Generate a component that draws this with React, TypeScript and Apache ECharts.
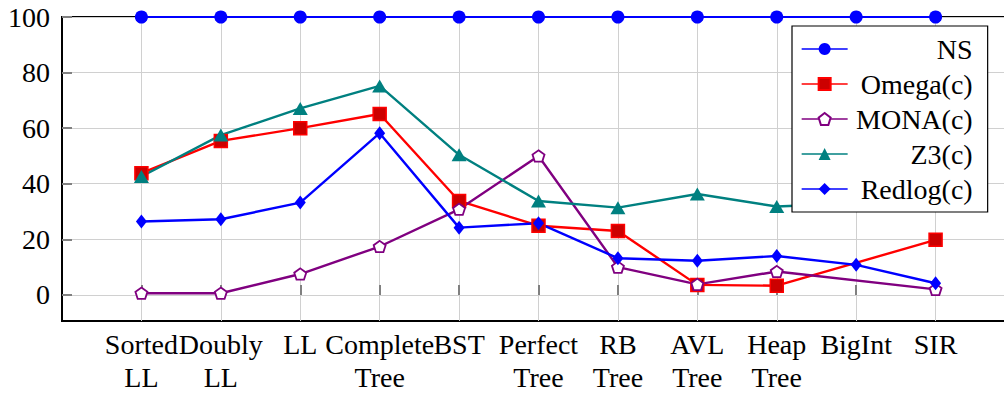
import React, { useEffect, useRef } from "react";
import * as echarts from "echarts";

const categories = [
  "Sorted\nLL",
  "Doubly\nLL",
  "LL",
  "Complete\nTree",
  "BST",
  "Perfect\nTree",
  "RB\nTree",
  "AVL\nTree",
  "Heap\nTree",
  "BigInt",
  "SIR",
];
const nsValues = [100, 100, 100, 100, 100, 100, 100, 100, 100, 100, 100];
const omegaValues: (number | null)[] = [43.8, 55.4, 60, 65.1, 33.8, 24.9, 23, 3.6, 3.3, null, 19.8];
const monaValues: (number | null)[] = [0.6, 0.6, 7.5, 17.4, 30.8, 50, 10, 3.8, 8.4, null, 2.0];
const z3Values = [42.6, 57.5, 67.1, 75.2, 50.4, 33.8, 31.4, 36.3, 31.8, 33, 38];
const redlogValues = [26.4, 27.2, 33.2, 58.2, 24.2, 25.8, 13.2, 12.3, 14, 10.8, 4.2];
const yTicks = [0, 20, 40, 60, 80, 100];
const xTicks = categories.map((_, i) => i + 1);

const FONT = "Liberation Serif";
const PENTAGON = "path://M0,-10L9.51,-3.09L5.88,8.09L-5.88,8.09L-9.51,-3.09Z";

function toPairs(vals: (number | null)[]) {
  return vals
    .map((v, i) => (v === null ? null : [i + 1, v]))
    .filter((p) => p !== null);
}

export default function App() {
  const ref = useRef<HTMLDivElement>(null);
  useEffect(() => {
    if (!ref.current) return;
    const chart = echarts.init(ref.current, undefined, { renderer: "svg" });
    chart.setOption({
      animation: false,
      backgroundColor: "#fff",
      textStyle: { fontFamily: FONT },
      grid: {
        left: 62,
        top: 17,
        bottom: 73,
        right: 1,
        outerBoundsMode: "none",
        show: true,
        borderColor: "#000",
        borderWidth: 2,
        backgroundColor: "transparent",
      },
      xAxis: {
        type: "value",
        min: 0,
        max: 12,
        interval: 1,
        axisLine: { show: false },
        axisTick: {
          show: true,
          inside: true,
          length: 10,
          lineStyle: { color: "#808080", width: 2 },
          customValues: xTicks,
        },
        axisLabel: {
          customValues: xTicks,
          formatter: (v: number) => categories[Math.round(v) - 1] ?? "",
          color: "#000",
          fontFamily: FONT,
          fontSize: 28,
          lineHeight: 33,
          margin: 7,
        },
        splitLine: { show: true, lineStyle: { color: "#d0d0d0", width: 1 } },
      },
      yAxis: {
        type: "value",
        min: -9.4,
        max: 100,
        axisLine: { show: false },
        axisTick: {
          show: true,
          inside: true,
          length: 10,
          lineStyle: { color: "#808080", width: 2 },
          customValues: yTicks,
        },
        axisLabel: {
          customValues: yTicks,
          color: "#000",
          fontFamily: FONT,
          fontSize: 28,
          margin: 12,
        },
        splitLine: { show: true, lineStyle: { color: "#d0d0d0", width: 1 } },
      },
      legend: {
        orient: "vertical",
        left: 792,
        top: 26,
        padding: [9, 15, 9, 9],
        itemWidth: 46,
        itemHeight: 15,
        itemGap: 7,
        itemTextGap: 5,
        backgroundColor: "#fff",
        borderColor: "#000",
        borderWidth: 1.2,
        borderRadius: 0,
        lineStyle: { width: 1.3 },
        formatter: (name: string) => `{n|${name}}`,
        textStyle: {
          color: "#000",
          fontFamily: FONT,
          fontSize: 28,
          rich: {
            n: {
              width: 120,
              align: "right",
              fontFamily: FONT,
              fontSize: 28,
              color: "#000",
            },
          },
        },
        data: ["NS", "Omega(c)", "MONA(c)", "Z3(c)", "Redlog(c)"],
      },
      series: [
        {
          name: "NS",
          type: "line",
          clip: false,
          data: toPairs(nsValues),
          symbol: "circle",
          symbolSize: 13,
          lineStyle: { color: "#0000ff", width: 2.2 },
          itemStyle: { color: "#0000ff" },
          z: 5,
        },
        {
          name: "Omega(c)",
          type: "line",
          data: toPairs(omegaValues),
          symbol: "rect",
          symbolSize: 13,
          lineStyle: { color: "#ff0000", width: 2.4 },
          itemStyle: { color: "#cc0000", borderColor: "#ff0000", borderWidth: 1.5 },
        },
        {
          name: "MONA(c)",
          type: "line",
          data: toPairs(monaValues),
          symbol: PENTAGON,
          symbolSize: [12, 11.4],
          showAllSymbol: true,
          lineStyle: { color: "#800080", width: 2.4 },
          itemStyle: { color: "#ffffff", borderColor: "#800080", borderWidth: 1.8 },
        },
        {
          name: "Z3(c)",
          type: "line",
          data: toPairs(z3Values),
          symbol: "triangle",
          symbolSize: [15, 13],
          lineStyle: { color: "#008080", width: 2.4 },
          itemStyle: { color: "#008080" },
        },
        {
          name: "Redlog(c)",
          type: "line",
          data: toPairs(redlogValues),
          symbol: "diamond",
          symbolSize: [11, 14],
          lineStyle: { color: "#0000ff", width: 2.4 },
          itemStyle: { color: "#0000ff" },
        },
      ],
    });
    return () => chart.dispose();
  }, []);
  return (
    <div
      style={{
        position: "absolute",
        left: 0,
        top: 0,
        width: 1004,
        height: 394,
        overflow: "hidden",
        background: "#fff",
      }}
    >
      <div ref={ref} style={{ width: 1016, height: 394 }} />
    </div>
  );
}
